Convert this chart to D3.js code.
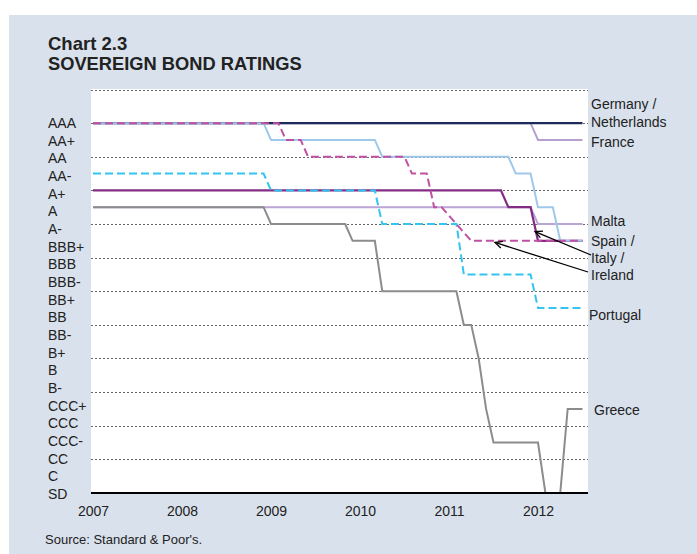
<!DOCTYPE html>
<html><head><meta charset="utf-8">
<script src="https://cdn.jsdelivr.net/npm/d3@7/dist/d3.min.js"></script>
<style>
html,body{margin:0;padding:0;background:#fff;}
svg{display:block;font-family:"Liberation Sans",Arial,sans-serif;}
</style></head>
<body>
<svg id="chart" width="697" height="554"></svg>
<script>
// Rating labels shown on the y axis (top to bottom)
const ratingLabels = ["AAA","AA+","AA","AA-","A+","A","A-","BBB+","BBB","BBB-","BB+","BB","BB-","B+","B","B-","CCC+","CCC","CCC-","CC","C","SD"];
const yearLabels = ["2007","2008","2009","2010","2011","2012"];

// Series: [month, notches below AAA] vertices (S&P ratings, monthly)
const germanyNetherlands = [["2007-01",0],["2012-07",0]];
const france = [["2007-01",0],["2011-12",0],["2012-01",1],["2012-07",1]];
const malta = [["2007-01",5],["2011-12",5],["2012-01",6],["2012-07",6]];
const italy = [["2007-01",4],["2011-08",4],["2011-09",5],["2011-12",5],["2012-01",7],["2012-07",7]];
const spain = [["2007-01",0],["2008-12",0],["2009-01",1],["2010-03",1],["2010-04",2],["2011-09",2],["2011-10",3],["2011-12",3],["2012-01",5],["2012-03",5],["2012-04",7],["2012-07",7]];
const greece = [["2007-01",5],["2008-12",5],["2009-01",6],["2009-11",6],["2009-12",7],["2010-03",7],["2010-04",10],["2011-02",10],["2011-03",12],["2011-04",12],["2011-05",14],["2011-06",17],["2011-07",19],["2012-01",19],["2012-02",22],["2012-04",22],["2012-05",17],["2012-07",17]];
const portugal = [["2007-01",3],["2008-12",3],["2009-01",4],["2010-03",4],["2010-04",6],["2011-02",6],["2011-03",9],["2011-12",9],["2012-01",11],["2012-07",11]];
const ireland = [["2007-01",0],["2009-02",0],["2009-03",1],["2009-05",1],["2009-06",2],["2010-07",2],["2010-08",3],["2010-10",3],["2010-11",5],["2010-12",5],["2011-02",6],["2011-04",7],["2012-07",7]];

const seriesNames = ["France","Malta","Germany / Netherlands","Italy","Spain","Greece","Portugal","Ireland"];
const seriesData = [france,malta,germanyNetherlands,italy,spain,greece,portugal,ireland];

const svg = d3.select("#chart");
const W = 697, H = 554;
const plot = {left:91, right:588, top:89.5, bottom:493};

svg.append("rect").attr("x",9).attr("y",15).attr("width",W-9).attr("height",H-15).attr("fill","#d9e1ec");
svg.append("rect").attr("x",plot.left).attr("y",plot.top-0.5).attr("width",plot.right-plot.left).attr("height",plot.bottom-plot.top+0.5).attr("fill","#fff");

// title
svg.append("text").attr("x",48).attr("y",50).attr("font-size",18.5).attr("font-weight","bold").attr("fill","#222").text("Chart 2.3");
svg.append("text").attr("x",48).attr("y",70).attr("font-size",18.3).attr("font-weight","bold").attr("fill","#222").text("SOVEREIGN BOND RATINGS");
svg.append("text").attr("x",45).attr("y",544).attr("font-size",13).attr("fill","#222").text("Source: Standard & Poor's.");

const monthIndex = s => { const [y,m] = s.split("-").map(Number); return (y-2007)*12 + (m-1); };
const x = d3.scaleLinear().domain([0,60]).range([93,538]);
const y = d3.scaleLinear().domain([-2,22]).range([plot.top, plot.bottom]);
const yLab = d3.scalePoint().domain(ratingLabels).range([123,494]);

// gridlines
const gridVals = d3.range(-2,21,2);
svg.append("g").selectAll("line").data(gridVals).join("line")
  .attr("x1",plot.left).attr("x2",plot.right)
  .attr("y1",d=>Math.round(y(d))+0.5).attr("y2",d=>Math.round(y(d))+0.5)
  .attr("stroke","#555").attr("stroke-width",0.9).attr("stroke-dasharray","2,2");

// y labels
svg.append("g").selectAll("text").data(ratingLabels).join("text")
  .attr("x",48).attr("y",d=>yLab(d)+5).attr("font-size",14).attr("fill","#222").text(d=>d);

// x axis labels
const xAxis = d3.axisBottom(x).tickValues(yearLabels.map((d,i)=>i*12)).tickFormat((d,i)=>yearLabels[i]).tickSize(0).tickPadding(13);
const gx = svg.append("g").attr("transform",`translate(0,${plot.bottom})`).call(xAxis);
gx.select(".domain").remove();
gx.selectAll("text").attr("font-size",14).attr("fill","#222").attr("font-family","Liberation Sans, Arial, sans-serif");

// lines
const styles = [
  {color:"#b6a0d2", w:2, dash:null},
  {color:"#bba5d6", w:2, dash:null},
  {color:"#1f2a5c", w:2.4, dash:null},
  {color:"#832c84", w:2.2, dash:null},
  {color:"#9fc8ea", w:2, dash:null},
  {color:"#8c8c8c", w:2, dash:null},
  {color:"#33c5f0", w:2, dash:"8,4"},
  {color:"#c050a4", w:2, dash:"8,4"}
];
const line = d3.line().x(d=>x(monthIndex(d[0]))).y(d=>y(d[1]));
svg.append("g").selectAll("path").data(seriesData).join("path")
  .attr("d",line).attr("fill","none")
  .attr("stroke",(d,i)=>styles[i].color).attr("stroke-width",(d,i)=>styles[i].w)
  .attr("stroke-dasharray",(d,i)=>styles[i].dash)
  .attr("stroke-linejoin","miter");

// baseline
svg.append("line").attr("x1",plot.left).attr("x2",plot.right).attr("y1",plot.bottom).attr("y2",plot.bottom).attr("stroke","#000").attr("stroke-width",2);

// legend labels
const legendLabels = [
  {t:"Germany /", x:591, y:109},
  {t:"Netherlands", x:591, y:127},
  {t:"France", x:591, y:147},
  {t:"Malta", x:591, y:226},
  {t:"Spain /", x:591, y:246},
  {t:"Italy /", x:591, y:263},
  {t:"Ireland", x:591, y:280},
  {t:"Portugal", x:589, y:320},
  {t:"Greece", x:594, y:415}
];
svg.append("g").selectAll("text").data(legendLabels).join("text")
  .attr("x",d=>d.x).attr("y",d=>d.y).attr("font-size",14).attr("fill","#222").text(d=>d.t);

// arrows pointing from label to Italy and Ireland lines
const arrows = [
  {x1:591, y1:255, tx:x(59.6), ty:y(6.45)},
  {x1:588, y1:272, tx:x(54.2), ty:y(7.1)}
];
arrows.forEach(a=>{
  svg.append("line").attr("x1",a.x1).attr("y1",a.y1).attr("x2",a.tx).attr("y2",a.ty).attr("stroke","#000").attr("stroke-width",1.3);
  const ang = Math.atan2(a.y1-a.ty, a.x1-a.tx);
  const L = 8, sp = 0.45;
  const p1 = [a.tx+L*Math.cos(ang+sp), a.ty+L*Math.sin(ang+sp)];
  const p2 = [a.tx+L*Math.cos(ang-sp), a.ty+L*Math.sin(ang-sp)];
  svg.append("path").attr("d",`M${p1[0]},${p1[1]}L${a.tx},${a.ty}L${p2[0]},${p2[1]}`).attr("fill","none").attr("stroke","#000").attr("stroke-width",1.3);
});
</script>
</body></html>
